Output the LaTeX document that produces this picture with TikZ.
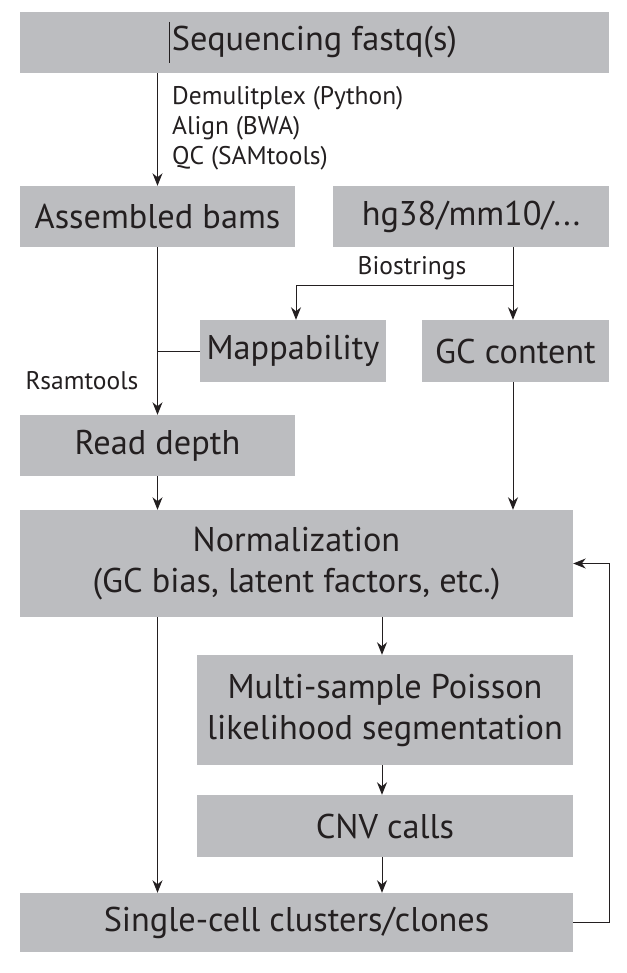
\documentclass[tikz,border=0pt]{standalone}
\usepackage{fontspec}
\setmainfont{PT Sans}
\usetikzlibrary{arrows.meta}
\definecolor{boxgray}{HTML}{BCBDC0}
\definecolor{ink}{HTML}{231F20}
\tikzset{
  box/.style={fill=boxgray, draw=none, inner sep=0pt, text=ink, align=center,
              font=\fontsize{34.3}{41}\selectfont},
  note/.style={inner sep=0pt, text=ink, font=\fontsize{25.5}{30}\selectfont},
  link/.style={draw=ink, line width=1pt},
  arr/.style={link, -{Stealth[length=12.5pt,width=10pt,inset=4pt]}},
}
\begin{document}
\begin{tikzpicture}[x=1pt, y=-1pt]
  \useasboundingbox (0,0) rectangle (626,973);

  % boxes (centre, width, height in px)
  \node[box, minimum width=589pt, minimum height=61pt] (seq)   at (314.5, 42.5) {Sequencing fastq(s)};
  \node[box, minimum width=275pt, minimum height=61pt] (asm)   at (157.5,216.5) {Assembled bams};
  \node[box, minimum width=276pt, minimum height=61pt] (ref)   at (471,216.5)   {hg38/mm10/...};
  \node[box, minimum width=186pt, minimum height=62pt] (map)   at (293,351)     {Mappability};
  \node[box, minimum width=187pt, minimum height=62pt] (gc)    at (515.5,351)   {GC content};
  \node[box, minimum width=275pt, minimum height=61pt] (rd)    at (157.5,445.5) {Read depth};
  \node[box, minimum width=553pt, minimum height=107pt] (norm) at (296.5,563.5) {Normalization\\(GC bias, latent factors, etc.)};
  \node[box, minimum width=376pt, minimum height=110pt] (seg)  at (385,710)     {Multi-sample Poisson\\likelihood segmentation};
  \node[box, minimum width=376pt, minimum height=62pt] (cnv)   at (385,826)     {CNV calls};
  \node[box, minimum width=553pt, minimum height=59pt] (clu)   at (296.5,922.5) {Single-cell clusters/clones};

  % thin vertical stroke inside the top box
  \coordinate (tickA) at (169.5,22);
  \coordinate (tickB) at (169.5,63);
  \draw[draw=ink, line width=0.7pt] (tickA) -- (tickB);

  % labels
  \node[note, anchor=west] (l1) at (172,98)  {Demulitplex (Python)};
  \node[note, anchor=west] (l2) at (172,128) {Align (BWA)};
  \node[note, anchor=west] (l3) at (172,158) {QC (SAMtools)};
  \node[note] (lbio) at (412,268) {Biostrings};
  \node[note] (lrs)  at (82,381)  {Rsamtools};

  % helper points
  \coordinate (split) at (513,285);
  \coordinate (bend) at (609,0);

  % connectors
  \draw[arr] (seq.south -| asm.north) -- (asm.north);
  \draw[link] (ref.south -| split) -- (split);
  \draw[arr] (split) -- (split |- gc.north);
  \draw[arr] (split) -| ([xshift=3pt]map.north);
  \draw[arr] (asm.south) -- (rd.north);
  \draw[link] (map.west) -- (map.west -| asm.south);
  \draw[arr] (rd.south) -- (rd.south |- norm.north);
  \draw[arr] (gc.south -| split) -- (norm.north -| split);
  \draw[arr] ([xshift=-3pt]seg.north |- norm.south) -- ([xshift=-3pt]seg.north);
  \draw[arr] ([xshift=-3pt]seg.south) -- ([xshift=-3pt]cnv.north);
  \draw[arr] ([xshift=-3pt]cnv.south) -- ([xshift=-3pt]cnv.south |- clu.north);
  \draw[arr] (norm.south -| rd.south) -- (clu.north -| rd.south);
  \draw[arr] (clu.east) -- (clu.east -| bend) -- (norm.east -| bend) -- (norm.east);
\end{tikzpicture}
\end{document}
